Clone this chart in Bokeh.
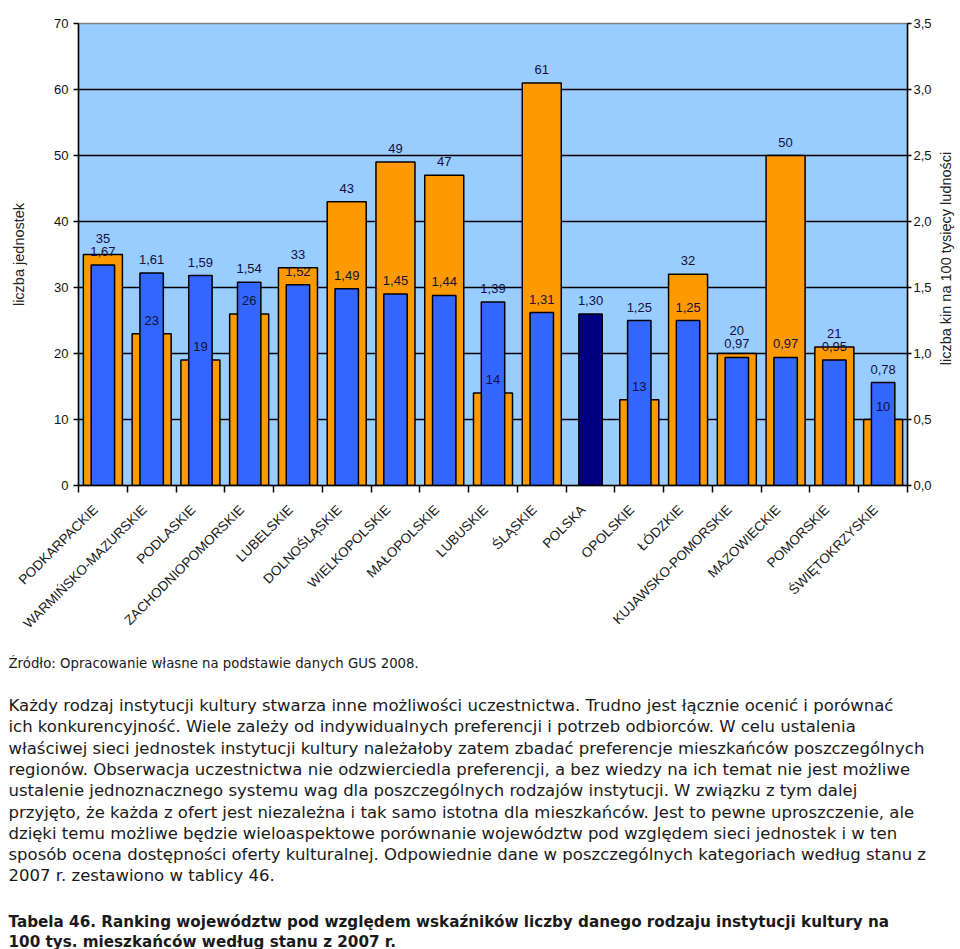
import math
from bokeh.plotting import figure
from bokeh.models import Range1d, LinearAxis, FixedTicker, CustomJSTickFormatter
from bokeh.layouts import column, row
from bokeh.core.properties import value
from bokeh.embed import file_html
from bokeh.resources import INLINE

# ---------------- data ----------------
regions = ["PODKARPACKIE", "WARMIŃSKO-MAZURSKIE", "PODLASKIE", "ZACHODNIOPOMORSKIE",
           "LUBELSKIE", "DOLNOŚLĄSKIE", "WIELKOPOLSKIE", "MAŁOPOLSKIE", "LUBUSKIE",
           "ŚLĄSKIE", "POLSKA", "OPOLSKIE", "ŁÓDZKIE", "KUJAWSKO-POMORSKIE",
           "MAZOWIECKIE", "POMORSKIE", "ŚWIĘTOKRZYSKIE"]
count_units = [35, 23, 19, 26, 33, 43, 49, 47, 14, 61, None, 13, 32, 20, 50, 21, 10]
per_100k = [1.67, 1.61, 1.59, 1.54, 1.52, 1.49, 1.45, 1.44, 1.39, 1.31, 1.30,
            1.25, 1.25, 0.97, 0.97, 0.95, 0.78]
left_ticks = [0, 10, 20, 30, 40, 50, 60, 70]
right_ticks = [0.0, 0.5, 1.0, 1.5, 2.0, 2.5, 3.0, 3.5]
left_title = "liczba jednostek"
right_title = "liczba kin na 100 tysięcy ludności"
total_label = "POLSKA"

source_note = "Źródło: Opracowanie własne na podstawie danych GUS 2008."
paragraph = [
    "Każdy rodzaj instytucji kultury stwarza inne możliwości uczestnictwa. Trudno jest łącznie ocenić i porównać",
    "ich konkurencyjność. Wiele zależy od indywidualnych preferencji i potrzeb odbiorców. W celu ustalenia",
    "właściwej sieci jednostek instytucji kultury należałoby zatem zbadać preferencje mieszkańców poszczególnych",
    "regionów. Obserwacja uczestnictwa nie odzwierciedla preferencji, a bez wiedzy na ich temat nie jest możliwe",
    "ustalenie jednoznacznego systemu wag dla poszczególnych rodzajów instytucji. W związku z tym dalej",
    "przyjęto, że każda z ofert jest niezależna i tak samo istotna dla mieszkańców. Jest to pewne uproszczenie, ale",
    "dzięki temu możliwe będzie wieloaspektowe porównanie województw pod względem sieci jednostek i w ten",
    "sposób ocena dostępności oferty kulturalnej. Odpowiednie dane w poszczególnych kategoriach według stanu z",
    "2007 r. zestawiono w tablicy 46.",
]
table_caption = [
    "Tabela 46. Ranking województw pod względem wskaźników liczby danego rodzaju instytucji kultury na",
    "100 tys. mieszkańców według stanu z 2007 r.",
]

# ---------------- styles / layout ----------------
CH = "Liberation Sans"
CH_FONT = value(CH)
TXT_FONT = value("DejaVu Sans")
BG = "#99CCFF"
ORANGE = "#FF9900"
BLUE = "#3366FF"
NAVY = "#000080"
LABEL_COLOR = "#101040"
TEXT_COLOR = "#1a1a1a"
TITLE_SIZE = "14.5px"

W = 960
WR = 24             # strip holding the right-hand axis title
W1 = W - WR         # chart figure width
H1 = 645            # chart figure height
H2 = 949 - H1       # text figure height
FL, FR, FT, FB = 78, 907, 23, 485   # frame edges in page pixels

n = len(regions)
centers = [i + 0.5 for i in range(n)]
label_ticks = [c - 0.15 for c in centers]
bounds = list(range(n + 1))
y_max = left_ticks[-1]
r_max = right_ticks[-1]
ratio = y_max / r_max

p = figure(width=W1, height=H1, x_range=Range1d(0, n), y_range=Range1d(0, y_max),
           output_backend="svg", toolbar_location=None,
           min_border_left=FL, min_border_right=W1 - FR, min_border_top=FT,
           min_border_bottom=H1 - FB,
           background_fill_color=BG, border_fill_color="white")
p.extra_y_ranges = {"right": Range1d(0, r_max)}
p.outline_line_color = "#808080"
p.outline_line_width = 1.5
p.xgrid.visible = False
p.ygrid.ticker = FixedTicker(ticks=left_ticks[1:-1])
p.ygrid.grid_line_color = "black"
p.ygrid.grid_line_width = 1.5

# left axis
ya = p.yaxis[0]
ya.ticker = FixedTicker(ticks=left_ticks)
ya.axis_label = left_title
ya.axis_label_text_font = CH
ya.axis_label_text_font_size = TITLE_SIZE
ya.axis_label_text_font_style = "normal"
ya.axis_label_text_color = "#222222"
ya.axis_label_standoff = 24
ya.major_label_text_font = CH
ya.major_label_text_font_size = "13px"
ya.major_label_text_color = "#111111"
ya.major_tick_out = 5
ya.major_tick_in = 0
ya.minor_tick_out = 0
ya.minor_tick_in = 0
ya.major_label_standoff = 5
ya.axis_line_color = "black"
ya.axis_line_width = 1.5
ya.major_tick_line_width = 1.5

# right axis (its title is drawn in the narrow strip to the right)
ra = LinearAxis(y_range_name="right", ticker=FixedTicker(ticks=right_ticks),
                formatter=CustomJSTickFormatter(code="return tick.toFixed(1).replace('.', ',');"))
ra.major_label_text_font = CH
ra.major_label_text_font_size = "13px"
ra.major_label_text_color = "#111111"
ra.major_tick_out = 4
ra.major_tick_in = 0
ra.minor_tick_out = 0
ra.minor_tick_in = 0
ra.major_label_standoff = 2
ra.axis_line_color = "black"
ra.axis_line_width = 1.5
ra.major_tick_line_width = 1.5
p.add_layout(ra, "right")

# x axis: labels near category centres, tick marks at category boundaries
xa = p.xaxis[0]
xa.ticker = FixedTicker(ticks=label_ticks, minor_ticks=bounds)
xa.formatter = CustomJSTickFormatter(args=dict(names=regions),
                                     code="return names[Math.floor(tick)];")
xa.major_tick_out = 0
xa.major_tick_in = 0
xa.minor_tick_out = 7
xa.minor_tick_in = 0
xa.minor_tick_line_color = "black"
xa.minor_tick_line_width = 1.5
xa.major_label_orientation = math.pi / 4
xa.major_label_standoff = 15
xa.major_label_text_font = CH
xa.major_label_text_font_size = "13.5px"
xa.major_label_text_color = "#1a1a1a"
xa.axis_line_color = "black"
xa.axis_line_width = 1.5

# bars
o_idx = [i for i, v in enumerate(count_units) if v is not None]
ox = [centers[i] for i in o_idx]
oy = [count_units[i] for i in o_idx]
p.vbar(x=ox, top=oy, bottom=0, width=0.8, fill_color=ORANGE, line_color="black",
       line_width=1.5)
bcolors = [NAVY if r == total_label else BLUE for r in regions]
p.vbar(x=centers, top=per_100k, bottom=0, width=0.48, fill_color=bcolors,
       line_color="black", line_width=1.5, y_range_name="right")

# value labels
o_lab_y = []
for i in o_idx:
    o = count_units[i]
    b = per_100k[i] * ratio
    o_lab_y.append(max(o, b + 2.0) if o >= b else o)
p.text(x=ox, y=o_lab_y, text=[str(v) for v in oy], text_align="center",
       text_baseline="bottom", y_offset=-9, text_font=CH_FONT, text_font_size="13px",
       text_color=LABEL_COLOR)
p.text(x=centers, y=per_100k, text=[f"{v:.2f}".replace(".", ",") for v in per_100k],
       text_align="center", text_baseline="bottom", y_offset=-9, text_font=CH_FONT,
       text_font_size="13px", text_color=LABEL_COLOR, y_range_name="right")

# ---------------- right axis title strip ----------------
r = figure(width=WR, height=H1, x_range=Range1d(0, WR), y_range=Range1d(H1, 0),
           output_backend="svg", toolbar_location=None, min_border=0,
           x_axis_type=None, y_axis_type=None, background_fill_color="white",
           border_fill_color="white")
r.grid.visible = False
r.outline_line_color = None
r.text(x=[945.5 - W1], y=[(FT + FB) / 2 + 4], text=[right_title], angle=math.pi / 2,
       text_align="center", text_baseline="middle", text_font=CH_FONT,
       text_font_size=TITLE_SIZE, text_color="#222222")

# ---------------- text below the chart ----------------
t = figure(width=W, height=H2, x_range=Range1d(0, W), y_range=Range1d(H2, 0),
           output_backend="svg", toolbar_location=None, min_border=0,
           x_axis_type=None, y_axis_type=None, background_fill_color="white",
           border_fill_color="white")
t.grid.visible = False
t.outline_line_color = None

for fig in (p, r, t):
    try:
        fig.frame_align = False
    except Exception:
        pass

x0 = 8
t.text(x=[x0], y=[663 - H1], text=[source_note], text_font=TXT_FONT,
       text_font_size="13.3px", text_baseline="middle", text_color=TEXT_COLOR)
line_h = 21.3
t.text(x=[x0] * len(paragraph),
       y=[705 - H1 + i * line_h for i in range(len(paragraph))],
       text=paragraph, text_font=TXT_FONT, text_font_size="16.5px",
       text_baseline="middle", text_color=TEXT_COLOR)
t.text(x=[x0] * len(table_caption),
       y=[921 - H1 + i * 20 for i in range(len(table_caption))],
       text=table_caption, text_font=TXT_FONT, text_font_size="15.2px",
       text_font_style="bold", text_baseline="middle", text_color=TEXT_COLOR)

layout = column(row(p, r), t)
open("out.html", "w").write(file_html(layout, INLINE))
